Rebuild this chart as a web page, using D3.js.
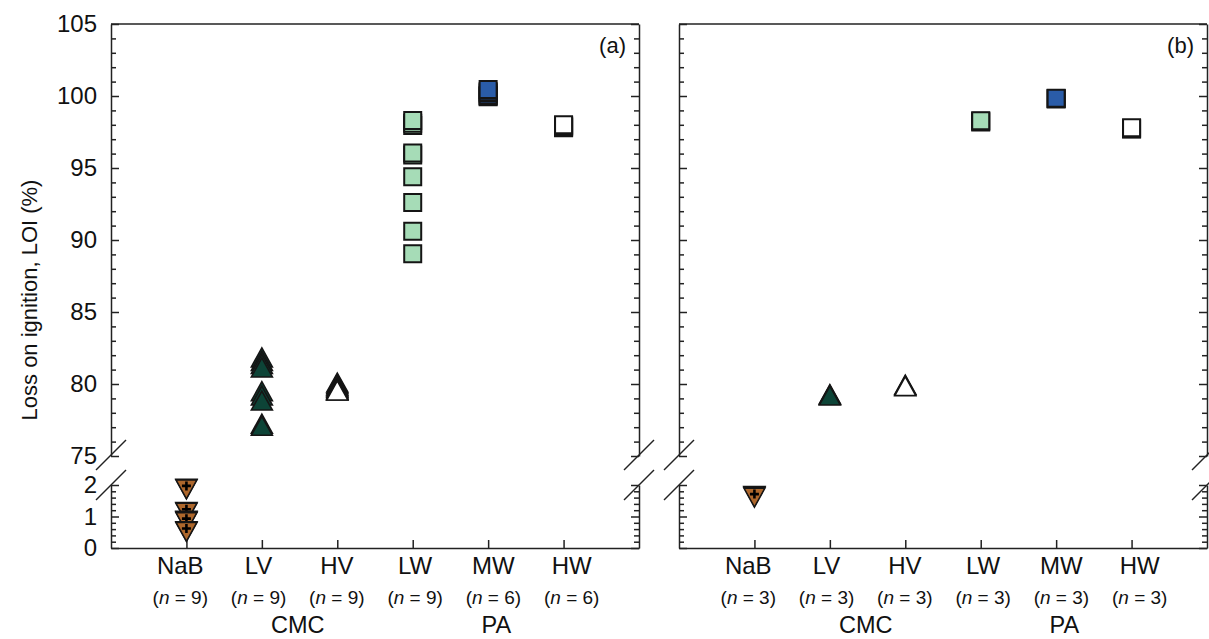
<!DOCTYPE html>
<html>
<head>
<meta charset="utf-8">
<script src="https://cdn.jsdelivr.net/npm/d3@7"></script>
<style>
  body { margin: 0; background: #fff; }
  text { font-family: "Liberation Sans", Arial, sans-serif; fill: #111; }
</style>
</head>
<body>
<svg id="chart" width="1209" height="639"></svg>
<script>
// Categories and grouping
const categories = ["NaB", "LV", "HV", "LW", "MW", "HW"];
const groupLabels = ["CMC", "PA"];
const groupCenters = [["LV", "HV"], ["MW", "MW"]];

// Sample counts per category
const countsA = [9, 9, 9, 9, 6, 6];
const countsB = [3, 3, 3, 3, 3, 3];

// Loss on ignition (%) – panel (a)
const nabA = [1.88, 1.86, 1.14, 1.12, 0.86, 0.84, 0.82, 0.53, 0.51];
const lvA  = [81.85, 81.6, 81.4, 81.15, 79.5, 79.2, 78.85, 77.25, 77.1];
const hvA  = [80.1, 80.0, 79.9, 79.83, 79.75, 79.65, 79.6, 79.55, 79.55];
const lwA  = [98.3, 98.1, 97.95, 96.05, 95.9, 94.4, 92.6, 90.6, 89.05];
const mwA  = [100.45, 100.3, 100.2, 100.05, 100.0, 99.95];
const hwA  = [98.0, 97.95, 97.9, 97.85, 97.85, 97.8];

// Loss on ignition (%) – panel (b)
const nabB = [1.65, 1.63, 1.6];
const lvB  = [79.3, 79.25, 79.2];
const hvB  = [79.95, 79.9, 79.85];
const lwB  = [98.28, 98.25, 98.2];
const mwB  = [99.85, 99.82, 99.8];
const hwB  = [97.8, 97.72, 97.7];

// Axis ticks (broken y axis: upper and lower segments)
const upperTicks = [75, 80, 85, 90, 95, 100, 105];
const upperMinor = d3.range(75, 106).filter(v => v % 5 !== 0);
const lowerTicks = [0, 1, 2];
const lowerMinor = [0.2, 0.4, 0.6, 0.8, 1.2, 1.4, 1.6, 1.8];

// Marker style for each category
const markerStyle = {
  NaB: { shape: "down",   fill: "#ad672c", plus: true },
  LV:  { shape: "up",     fill: "#0d4437" },
  HV:  { shape: "up",     fill: "#ffffff" },
  LW:  { shape: "square", fill: "#a6dcb7" },
  MW:  { shape: "square", fill: "#2a5ca8" },
  HW:  { shape: "square", fill: "#ffffff" }
};
const shapes = {
  up:     "M0,-9.5L10.5,9.5L-10.5,9.5Z",
  down:   "M-10.5,-9.5L10.5,-9.5L0,9.5Z",
  square: "M-8.5,-8.5h17v17h-17Z"
};

const svg = d3.select("#chart");
const yTop = 24, y75 = 456, y2 = 485, yBottom = 548;

const yU = d3.scaleLinear().domain([75, 105]).range([y75, yTop]);
const yL = d3.scaleLinear().domain([0, 2]).range([yBottom, y2]);
const yv = v => (v >= 50 ? yU(v) : yL(v));

const axisColor = "#222";

function styleAxis(g, size) {
  g.selectAll("path.domain").attr("stroke", axisColor).attr("stroke-width", 1.5);
  g.selectAll(".tick line").attr("stroke", axisColor).attr("stroke-width", 1.5);
  g.selectAll(".tick text").attr("font-size", size || 24)
    .attr("font-family", "'Liberation Sans', Arial, sans-serif").attr("fill", "#111");
}

function vAxis(g, side, withLabels) {
  const make = side === "left" ? d3.axisLeft : d3.axisRight;
  // upper segment
  g.append("g").call(make(yU).tickValues(upperTicks).tickSize(-8).tickSizeOuter(0)
      .tickPadding(14).tickFormat(withLabels ? d3.format("d") : ""))
    .call(s => styleAxis(s));
  g.append("g").call(make(yU).tickValues(upperMinor).tickSize(-5).tickSizeOuter(0).tickFormat(""))
    .call(s => { s.select(".domain").remove(); styleAxis(s); });
  // lower segment
  g.append("g").call(make(yL).tickValues(lowerTicks).tickSize(-8).tickSizeOuter(0)
      .tickPadding(14).tickFormat(withLabels ? d3.format("d") : ""))
    .call(s => styleAxis(s));
  g.append("g").call(make(yL).tickValues(lowerMinor).tickSize(-5).tickSizeOuter(0).tickFormat(""))
    .call(s => { s.select(".domain").remove(); styleAxis(s); });
  // break marks
  [455, 485].forEach(yy => {
    g.append("line")
      .attr("x1", -15).attr("y1", yy + 15).attr("x2", 15).attr("y2", yy - 15)
      .attr("stroke", axisColor).attr("stroke-width", 1.5);
  });
}

function drawPanel(x0, x1, series, counts, tag, withLabels) {
  const x = d3.scalePoint().domain(categories).range([x0, x1]).padding(1);
  // category captions sit on a slightly wider spread than the ticks
  const xl = d3.scalePoint().domain(categories).range([x0 - 9, x1 + 11]).padding(1);
  const g = svg.append("g");

  // frame top
  g.append("line").attr("x1", x0).attr("x2", x1).attr("y1", yTop).attr("y2", yTop)
    .attr("stroke", axisColor).attr("stroke-width", 1.5);

  // bottom axis ticks
  g.append("g").attr("transform", `translate(0,${yBottom})`)
    .call(d3.axisBottom(x).tickSize(-8).tickSizeOuter(0).tickFormat(""))
    .call(s => styleAxis(s, 24));

  // category names
  g.selectAll("text.cat").data(categories).join("text")
    .attr("class", "cat")
    .attr("x", d => xl(d)).attr("y", 574)
    .attr("text-anchor", "middle").attr("font-size", 24)
    .text(d => d);

  // left and right y axes
  vAxis(g.append("g").attr("transform", `translate(${x0},0)`), "left", withLabels);
  vAxis(g.append("g").attr("transform", `translate(${x1},0)`), "right", false);

  // sample counts
  g.selectAll("text.count").data(categories).join("text")
    .attr("class", "count")
    .attr("x", d => xl(d)).attr("y", 604)
    .attr("text-anchor", "middle").attr("font-size", 19)
    .each(function (d, i) {
      const t = d3.select(this);
      t.append("tspan").text("(");
      t.append("tspan").attr("font-style", "italic").text("n");
      t.append("tspan").text(" = " + counts[i] + ")");
    });

  // group labels
  g.selectAll("text.group").data(groupLabels).join("text")
    .attr("class", "group")
    .attr("x", (d, i) => (xl(groupCenters[i][0]) + xl(groupCenters[i][1])) / 2 + (i === 0 ? 0 : 3))
    .attr("y", 633).attr("text-anchor", "middle").attr("font-size", 23.5)
    .text(d => d);

  // panel tag
  g.append("text").attr("x", x1 - 13).attr("y", 53)
    .attr("text-anchor", "end").attr("font-size", 22).text(tag);

  // markers: triangles stack with lower points on top, squares with higher points on top
  categories.forEach((c, i) => {
    const st = markerStyle[c];
    const vals = series[i].slice().sort((a, b) =>
      st.shape === "square" ? a - b : b - a);
    const mg = g.append("g");
    vals.forEach(v => {
      const m = mg.append("g").attr("transform", `translate(${x(c)},${yv(v)})`);
      m.append("path").attr("d", shapes[st.shape])
        .attr("fill", st.fill).attr("stroke", "#151515")
        .attr("stroke-width", st.shape === "square" ? 2 : 1.6)
        .attr("stroke-linejoin", "miter");
      if (st.plus) {
        m.append("path").attr("d", "M-4.5,-3.5H4.5M0,-8V1")
          .attr("stroke", "#000").attr("stroke-width", 2.6);
      }
    });
  });
}

drawPanel(111, 639, [nabA, lvA, hvA, lwA, mwA, hwA], countsA, "(a)", true);
drawPanel(679, 1207, [nabB, lvB, hvB, lwB, mwB, hwB], countsB, "(b)", false);

// y-axis title
svg.append("text")
  .attr("transform", "translate(37,300) rotate(-90)")
  .attr("text-anchor", "middle").attr("font-size", 22)
  .text("Loss on ignition, LOI (%)");
</script>
</body>
</html>
